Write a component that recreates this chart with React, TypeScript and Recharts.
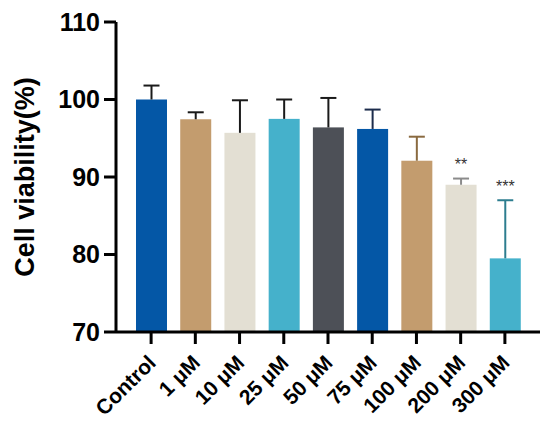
import React from "react";
import { BarChart, Bar, XAxis, YAxis, Cell } from "recharts";

const groups = ["Control", "1 μM", "10 μM", "25 μM", "50 μM", "75 μM", "100 μM", "200 μM", "300 μM"];
const viability = [100, 97.45, 95.7, 97.5, 96.4, 96.2, 92.1, 89.0, 79.5];
const sd = [1.8, 0.9, 4.2, 2.5, 3.8, 2.5, 3.1, 0.8, 7.5];
const stars = ["", "", "", "", "", "", "", "**", "***"];
const yTicks = [70, 80, 90, 100, 110];

const fills = ["#0457A6", "#C39C6E", "#E3DFD3", "#45B1CB", "#4D5057", "#0457A6", "#C39C6E", "#E3DFD3", "#45B1CB"];
const errColors = ["#1a1a1a", "#1a1a1a", "#1a1a1a", "#1a1a1a", "#1a1a1a", "#1c2c4c", "#8a6a40", "#8b8b8b", "#2d7d8f"];

const data = groups.map((g, i) => ({ group: g, value: viability[i] }));

const FONT = "Arial, 'Liberation Sans', sans-serif";
const Y_MIN = 70;

// bar + upper error whisker + significance stars
const BarWithError = (props: any) => {
  const { x, y, width, height, index, fill } = props;
  const perUnit = height / (viability[index] - Y_MIN);
  const top = y - sd[index] * perUnit;
  const cx = x + width / 2;
  const col = errColors[index];
  return (
    <g>
      <rect x={x} y={y} width={width} height={height} fill={fill} />
      <line x1={cx} x2={cx} y1={y} y2={top} stroke={col} strokeWidth={2} />
      <line x1={cx - 8} x2={cx + 8} y1={top} y2={top} stroke={col} strokeWidth={2} />
      {stars[index] && (
        <text x={cx} y={top - 14} textAnchor="middle" fontSize={16} fontFamily={FONT} fill="#333" dominantBaseline="central">
          {stars[index]}
        </text>
      )}
    </g>
  );
};

const XTick = (props: any) => {
  const { x, y, payload } = props;
  return (
    <g transform={`translate(${x + 6},${y + 18})`}>
      <text textAnchor="end" transform="rotate(-45)" fontSize={21} fontWeight="bold" fontFamily={FONT} fill="#000">
        {payload.value}
      </text>
    </g>
  );
};

export default function App() {
  return (
    <div style={{ position: "absolute", left: 0, top: 0, background: "#fff" }}>
      <BarChart width={550} height={422} data={data} margin={{ top: 22, right: 10, bottom: 0, left: 0 }} barSize={31}>
        <XAxis
          dataKey="group"
          interval={0}
          height={90}
          padding={{ left: 13, right: 13 }}
          tick={<XTick />}
          tickSize={12}
          axisLine={{ stroke: "#000", strokeWidth: 3 }}
          tickLine={{ stroke: "#000", strokeWidth: 3 }}
        />
        <YAxis
          width={116}
          domain={[70, 110]}
          ticks={yTicks}
          tickSize={12}
          tickMargin={4}
          axisLine={{ stroke: "#000", strokeWidth: 3 }}
          tickLine={{ stroke: "#000", strokeWidth: 3 }}
          tick={{ fontSize: 25, fontWeight: "bold", fontFamily: FONT, fill: "#000" }}
          label={{
            value: "Cell viability(%)",
            content: (p: any) => {
              const vb = p.viewBox;
              const cx = vb.x + 25;
              const cy = vb.y + vb.height / 2;
              return (
                <text
                  x={cx}
                  y={cy}
                  transform={`rotate(-90, ${cx}, ${cy})`}
                  textAnchor="middle"
                  dominantBaseline="central"
                  fontSize={27}
                  fontWeight="bold"
                  fontFamily={FONT}
                  fill="#000"
                >
                  Cell viability(%)
                </text>
              );
            },
          }}
        />
        <Bar dataKey="value" isAnimationActive={false} shape={<BarWithError />}>
          {data.map((d, i) => (
            <Cell key={d.group} fill={fills[i]} />
          ))}
        </Bar>
      </BarChart>
    </div>
  );
}
